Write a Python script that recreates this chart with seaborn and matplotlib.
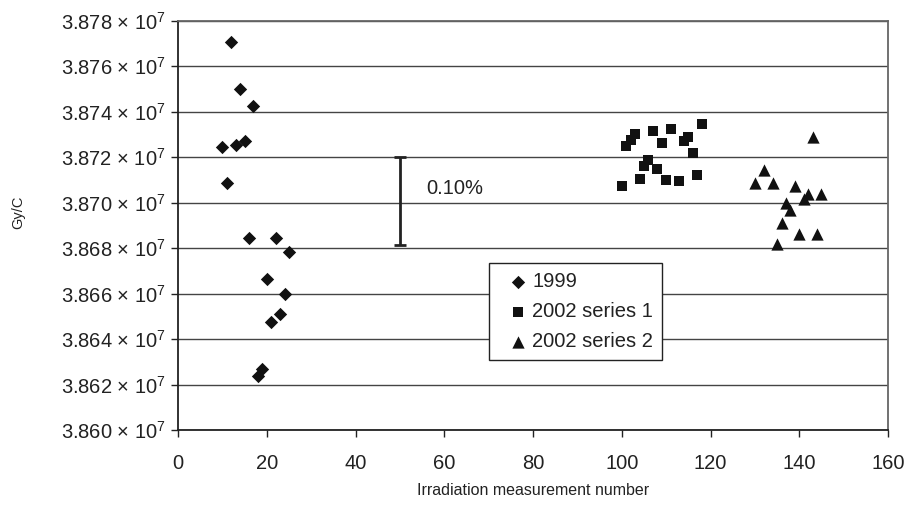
import matplotlib
matplotlib.use("Agg")
import matplotlib.pyplot as plt
import seaborn as sns
import pandas as pd
from matplotlib.ticker import FixedLocator, FuncFormatter

# ---- data -------------------------------------------------------------
x_1999 = [10, 11, 12, 13, 14, 15, 16, 17, 18, 19, 20, 21, 22, 23, 24, 25]
y_1999 = [3.87246e7, 3.87088e7, 3.87705e7, 3.87253e7, 3.87500e7, 3.87272e7,
          3.86843e7, 3.87426e7, 3.86238e7, 3.86270e7, 3.86664e7, 3.86476e7,
          3.86846e7, 3.86509e7, 3.86598e7, 3.86782e7]

x_s1 = [100, 101, 102, 103, 104, 105, 106, 107, 108, 109, 110, 111,
        113, 114, 115, 116, 117, 118]
y_s1 = [3.87072e7, 3.87250e7, 3.87276e7, 3.87301e7, 3.87104e7, 3.87162e7,
        3.87188e7, 3.87317e7, 3.87147e7, 3.87261e7, 3.87101e7, 3.87324e7,
        3.87093e7, 3.87269e7, 3.87288e7, 3.87218e7, 3.87120e7, 3.87345e7]

x_s2 = [130, 132, 134, 135, 136, 137, 138, 139, 140, 141, 142, 143, 144, 145]
y_s2 = [3.87085e7, 3.87143e7, 3.87085e7, 3.86819e7, 3.86910e7, 3.87000e7,
        3.86968e7, 3.87073e7, 3.86863e7, 3.87015e7, 3.87037e7, 3.87290e7,
        3.86863e7, 3.87038e7]

series_names = ["1999", "2002 series 1", "2002 series 2"]

# 0.10 % reference span
span_x = 50
span_center = 3.87005e7
span_pct = 0.10

y_ticks = [3.860e7, 3.862e7, 3.864e7, 3.866e7, 3.868e7,
           3.870e7, 3.872e7, 3.874e7, 3.876e7, 3.878e7]
x_ticks = [0, 20, 40, 60, 80, 100, 120, 140, 160]

df = pd.DataFrame({
    "n": x_1999 + x_s1 + x_s2,
    "gyc": y_1999 + y_s1 + y_s2,
    "series": [series_names[0]] * len(x_1999)
    + [series_names[1]] * len(x_s1)
    + [series_names[2]] * len(x_s2),
})

# ---- style ------------------------------------------------------------
sns.set_style("white")
ink = "#222222"
fs = 14.5
plt.rcParams.update({
    "font.family": ["Liberation Sans", "DejaVu Sans"],
    "mathtext.default": "regular",
    "font.size": fs,
    "text.color": ink,
    "axes.labelcolor": ink,
    "xtick.color": ink,
    "ytick.color": ink,
})

fig = plt.figure(figsize=(9.11, 5.11), dpi=100)
ax = fig.add_axes([0.1954, 0.1585, 0.7794, 0.801])

markers = {"1999": "D", "2002 series 1": "s", "2002 series 2": "^"}
sizes = {"1999": 46, "2002 series 1": 56, "2002 series 2": 78}
for name in series_names:
    sub = df[df["series"] == name]
    sns.scatterplot(data=sub, x="n", y="gyc", marker=markers[name],
                    s=sizes[name], color="#111111", linewidth=0,
                    label=name, ax=ax, zorder=3)

# error bar showing 0.10 %
half = span_center * span_pct / 100 / 2
ax.errorbar([span_x], [span_center], yerr=[[half], [half]], fmt="none",
            ecolor=ink, elinewidth=2, capsize=4.5, capthick=2, zorder=3)
ax.text(56, 3.8706e7, f"{span_pct:.2f}%", ha="left", va="center",
        fontsize=fs, color=ink)

# ---- axes -------------------------------------------------------------
ax.set_xlim(0, 160)
ax.set_ylim(3.860e7, 3.878e7)
ax.xaxis.set_major_locator(FixedLocator(x_ticks))
ax.yaxis.set_major_locator(FixedLocator(y_ticks))
ax.yaxis.set_major_formatter(
    FuncFormatter(lambda v, p: f"{v / 1e7:.3f} × $10^{{7}}$"))
ax.xaxis.set_major_formatter(FuncFormatter(lambda v, p: f"{v:.0f}"))

ax.grid(axis="y", color="#444444", linewidth=1.0)
ax.grid(axis="x", visible=False)
ax.set_axisbelow(True)

for side in ("left", "bottom"):
    ax.spines[side].set_color(ink)
    ax.spines[side].set_linewidth(1.3)
for side in ("top", "right"):
    ax.spines[side].set_color("#666666")
    ax.spines[side].set_linewidth(1.3)

ax.tick_params(axis="both", direction="out", length=5, width=1,
               labelsize=fs)
ax.tick_params(axis="y", left=True, pad=4)
ax.tick_params(axis="x", bottom=True, pad=12.5)

ax.set_xlabel("Irradiation measurement number", fontsize=11.5, labelpad=7)
ax.set_ylabel("Gy/C", fontsize=10.5)
ax.yaxis.set_label_coords(-0.2155, 0.533)

leg = ax.legend(loc="upper left", bbox_to_anchor=(0.438, 0.408),
                borderaxespad=0, frameon=True, fancybox=False, edgecolor=ink,
                handlelength=2.0, handletextpad=-0.3, borderpad=0.45,
                labelspacing=0.55, fontsize=fs)
leg.get_frame().set_linewidth(1.0)
leg.get_frame().set_facecolor("white")
leg.get_frame().set_alpha(1.0)

fig.savefig("out.png", dpi=100)
